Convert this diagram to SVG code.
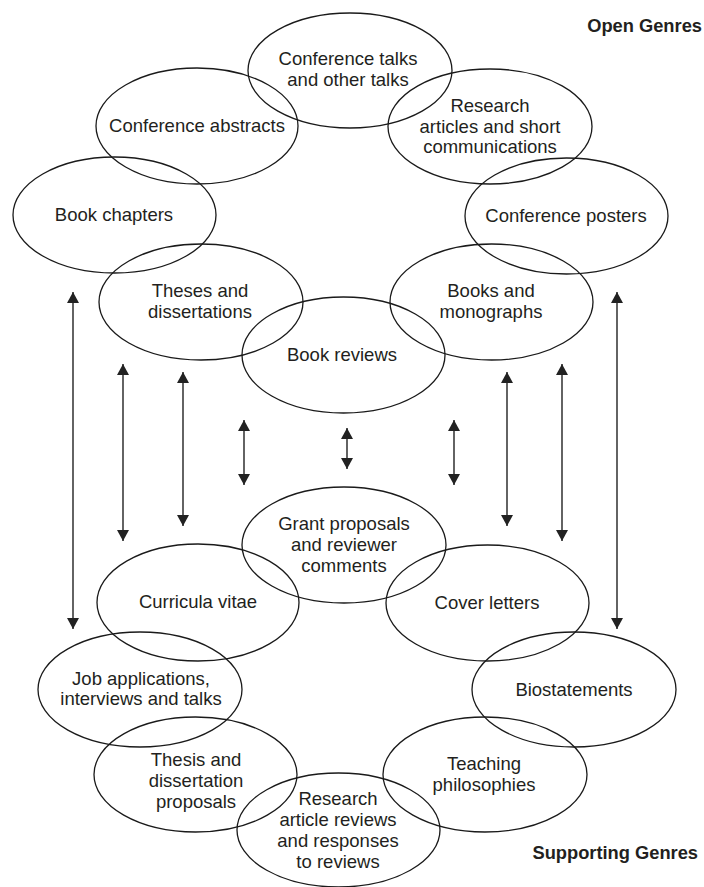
<svg xmlns="http://www.w3.org/2000/svg" width="704" height="887" viewBox="0 0 704 887">
  <style>
    .node ellipse { fill: none; stroke: #1a1a1a; stroke-width: 1.3; }
    .node text, .title { font-family: "Liberation Sans", Arial, sans-serif; font-size: 18.5px; fill: #231f20; text-anchor: middle; }
    .title { font-weight: bold; font-size: 18.3px; text-anchor: end; }
    .link { stroke: #222; stroke-width: 1.4; fill: none; marker-start: url(#head); marker-end: url(#head); }
  </style>
  <defs>
    <marker id="head" markerUnits="userSpaceOnUse" markerWidth="12" markerHeight="12" refX="11" refY="6" orient="auto-start-reverse" viewBox="0 0 12 12">
      <path d="M0,0 L11,6 L0,12 Z" fill="#222"/>
    </marker>
  </defs>
  <rect width="704" height="887" fill="#ffffff"/>

  <!-- Group labels -->
  <text class="title" x="702" y="32">Open Genres</text>
  <text class="title" x="698" y="859">Supporting Genres</text>

  <!-- Open genres ring -->
  <g id="conference-talks" class="node">
    <ellipse cx="350" cy="70.5" rx="102" ry="57.5"/>
    <text x="348" y="65">Conference talks</text>
    <text x="348" y="86">and other talks</text>
  </g>
  <g id="conference-abstracts" class="node">
    <ellipse cx="197" cy="126" rx="101" ry="58"/>
    <text x="197" y="132">Conference abstracts</text>
  </g>
  <g id="research-articles" class="node">
    <ellipse cx="490" cy="126.5" rx="102" ry="57.5"/>
    <text x="490" y="112">Research</text>
    <text x="490" y="133">articles and short</text>
    <text x="490" y="153">communications</text>
  </g>
  <g id="book-chapters" class="node">
    <ellipse cx="114.5" cy="215" rx="101.5" ry="58"/>
    <text x="114" y="221">Book chapters</text>
  </g>
  <g id="conference-posters" class="node">
    <ellipse cx="566.5" cy="216" rx="101.5" ry="58"/>
    <text x="566" y="222">Conference posters</text>
  </g>
  <g id="theses" class="node">
    <ellipse cx="201" cy="302" rx="102" ry="58"/>
    <text x="200" y="297">Theses and</text>
    <text x="200" y="318">dissertations</text>
  </g>
  <g id="books-monographs" class="node">
    <ellipse cx="491.5" cy="302" rx="101.5" ry="58"/>
    <text x="491" y="297">Books and</text>
    <text x="491" y="318">monographs</text>
  </g>
  <g id="book-reviews" class="node">
    <ellipse cx="343.5" cy="355" rx="101.5" ry="58"/>
    <text x="342" y="361">Book reviews</text>
  </g>

  <!-- Supporting genres ring -->
  <g id="grant-proposals" class="node">
    <ellipse cx="344" cy="545" rx="102" ry="58"/>
    <text x="344" y="530">Grant proposals</text>
    <text x="344" y="551">and reviewer</text>
    <text x="344" y="572">comments</text>
  </g>
  <g id="curricula-vitae" class="node">
    <ellipse cx="198" cy="602.5" rx="101" ry="58.5"/>
    <text x="198" y="608">Curricula vitae</text>
  </g>
  <g id="cover-letters" class="node">
    <ellipse cx="487.5" cy="603" rx="101.5" ry="58"/>
    <text x="487" y="609">Cover letters</text>
  </g>
  <g id="job-applications" class="node">
    <ellipse cx="140" cy="689.5" rx="102" ry="57.5"/>
    <text x="141" y="685">Job applications,</text>
    <text x="141" y="705">interviews and talks</text>
  </g>
  <g id="biostatements" class="node">
    <ellipse cx="574" cy="689.5" rx="102" ry="57.5"/>
    <text x="574" y="696">Biostatements</text>
  </g>
  <g id="thesis-proposals" class="node">
    <ellipse cx="195.5" cy="774.5" rx="101.5" ry="57.5"/>
    <text x="196" y="766">Thesis and</text>
    <text x="196" y="787">dissertation</text>
    <text x="196" y="808">proposals</text>
  </g>
  <g id="teaching-philosophies" class="node">
    <ellipse cx="485" cy="774.5" rx="102" ry="57.5"/>
    <text x="484" y="770">Teaching</text>
    <text x="484" y="791">philosophies</text>
  </g>
  <g id="article-reviews" class="node">
    <ellipse cx="338.5" cy="830" rx="101.5" ry="57"/>
    <text x="338" y="805">Research</text>
    <text x="338" y="826">article reviews</text>
    <text x="338" y="847">and responses</text>
    <text x="338" y="868">to reviews</text>
  </g>

  <!-- Two-way links between the rings -->
  <g id="connectors">
    <line class="link" x1="73" y1="292" x2="73" y2="629"/>
    <line class="link" x1="123" y1="364" x2="123" y2="541"/>
    <line class="link" x1="183" y1="372" x2="183" y2="526"/>
    <line class="link" x1="244" y1="420" x2="244" y2="485"/>
    <line class="link" x1="347" y1="428" x2="347" y2="469"/>
    <line class="link" x1="454" y1="420" x2="454" y2="485"/>
    <line class="link" x1="507" y1="372" x2="507" y2="526"/>
    <line class="link" x1="562" y1="364" x2="562" y2="541"/>
    <line class="link" x1="617" y1="292" x2="617" y2="629"/>
  </g>
</svg>
